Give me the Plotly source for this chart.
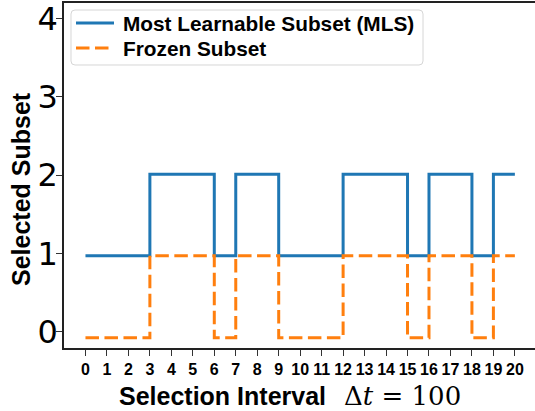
import plotly.graph_objects as go

# Selection intervals (x) and selected subset levels
intervals = list(range(0, 21))
mls_values = [0.97, 0.97, 0.97, 2.01, 2.01, 2.01, 0.97, 2.01, 2.01, 0.97, 0.97,
              0.97, 2.01, 2.01, 2.01, 0.97, 2.01, 2.01, 0.97, 2.01, 2.01]
frozen_values = [-0.08, -0.08, -0.08, 0.97, 0.97, 0.97, -0.08, 0.97, 0.97, -0.08, -0.08,
                 -0.08, 0.97, 0.97, 0.97, -0.08, 0.97, 0.97, -0.08, 0.97, 0.97]
series_names = ["Most Learnable Subset (MLS)", "Frozen Subset"]
x_tick_vals = list(range(0, 21))
y_tick_vals = [0, 1, 2, 3, 4]

BLUE, ORANGE = "#1f77b4", "#ff7f0e"
DASH = "13.5px,5.5px"
LW = 3

W, H = 535, 411
L, R, T, B = 64, 0, 3, 63
pw, ph = W - L - R, H - T - B

def px_x(p):
    return (p - L) / pw

def px_y(p):
    return (H - B - p) / ph

fig = go.Figure()
fig.add_trace(go.Scatter(
    x=intervals, y=mls_values, mode="lines", line_shape="hv",
    name=series_names[0], showlegend=False,
    line=dict(color=BLUE, width=LW),
))
fig.add_trace(go.Scatter(
    x=intervals, y=frozen_values, mode="lines", line_shape="hv",
    name=series_names[1], showlegend=False,
    line=dict(color=ORANGE, width=LW, dash=DASH),
))

fig.update_layout(
    width=W, height=H,
    margin=dict(l=L, r=R, t=T, b=B, pad=0, autoexpand=False),
    plot_bgcolor="white", paper_bgcolor="white",
    showlegend=False,
    xaxis=dict(
        range=[-1, -1 + pw / 21.47], automargin=False,
        tickmode="array", tickvals=x_tick_vals,
        ticktext=[str(v) for v in x_tick_vals],
        ticks="outside", ticklen=6, tickwidth=1.2, tickcolor="#333",
        tickfont=dict(family="Liberation Sans", size=16, color="black", weight="bold"),
        ticklabeloverflow="allow",
        showline=True, linecolor="#222", linewidth=1.5, mirror=True,
        showgrid=False, zeroline=False,
    ),
    yaxis=dict(
        range=[-0.21, 4.2], automargin=False,
        tickmode="array", tickvals=y_tick_vals,
        ticktext=[str(v) for v in y_tick_vals],
        ticks="outside", ticklen=6, tickwidth=1.2, tickcolor="#333",
        tickfont=dict(family="DejaVu Sans", size=32, color="black"),
        ticklabeloverflow="allow", ticklabelstandoff=-8,
        showline=True, linecolor="#222", linewidth=1.5,
        showgrid=False, zeroline=False,
    ),
)

# legend box (rounded, light border) drawn manually
x0, x1, y0, y1, r = 71, 423, 10, 65, 4
pts = [
    ("M", x0 + r, y0), ("L", x1 - r, y0), ("Q", x1, y0, x1, y0 + r),
    ("L", x1, y1 - r), ("Q", x1, y1, x1 - r, y1), ("L", x0 + r, y1),
    ("Q", x0, y1, x0, y1 - r), ("L", x0, y0 + r), ("Q", x0, y0, x0 + r, y0),
]
path = ""
for p in pts:
    cmd, coords = p[0], p[1:]
    conv = []
    for i in range(0, len(coords), 2):
        conv.append(f"{px_x(coords[i]):.5f},{px_y(coords[i + 1]):.5f}")
    path += cmd + " " + " ".join(conv) + " "
path += "Z"
fig.add_shape(type="path", path=path, xref="paper", yref="paper",
              line=dict(color="#d6d6d6", width=1), fillcolor="rgba(255,255,255,0.85)",
              layer="above")

legend_rows = [(23, BLUE, "solid"), (48, ORANGE, DASH)]
for (yy, col, dash), name in zip(legend_rows, series_names):
    fig.add_shape(type="line", xref="paper", yref="paper",
                  x0=px_x(76), x1=px_x(114), y0=px_y(yy), y1=px_y(yy),
                  line=dict(color=col, width=LW, dash=dash), layer="above")
    fig.add_annotation(
        text=f"<b>{name}</b>", xref="paper", yref="paper",
        x=px_x(121), y=px_y(yy + 0.5), xanchor="left", yanchor="middle",
        showarrow=False,
        font=dict(family="Liberation Sans", size=20.8, color="black"),
    )

fig.add_annotation(
    text="<b>Selection Interval</b>", xref="paper", yref="paper",
    x=px_x(117), y=px_y(396), xanchor="left", yanchor="middle",
    showarrow=False,
    font=dict(family="Liberation Sans", size=25, color="black"),
)
fig.add_annotation(
    text="Δ<i>t</i> = 100", xref="paper", yref="paper",
    x=px_x(342), y=px_y(396), xanchor="left", yanchor="middle",
    showarrow=False,
    font=dict(family="DejaVu Serif", size=26, color="black"),
)
fig.add_annotation(
    text="<b>Selected Subset</b>", xref="paper", yref="paper",
    x=px_x(21), y=px_y(189), xanchor="center", yanchor="middle",
    textangle=-90, showarrow=False,
    font=dict(family="Liberation Sans", size=25, color="black"),
)

fig.write_html("out.html", config={"displayModeBar": False},
               post_script="document.body.style.margin='0';")
